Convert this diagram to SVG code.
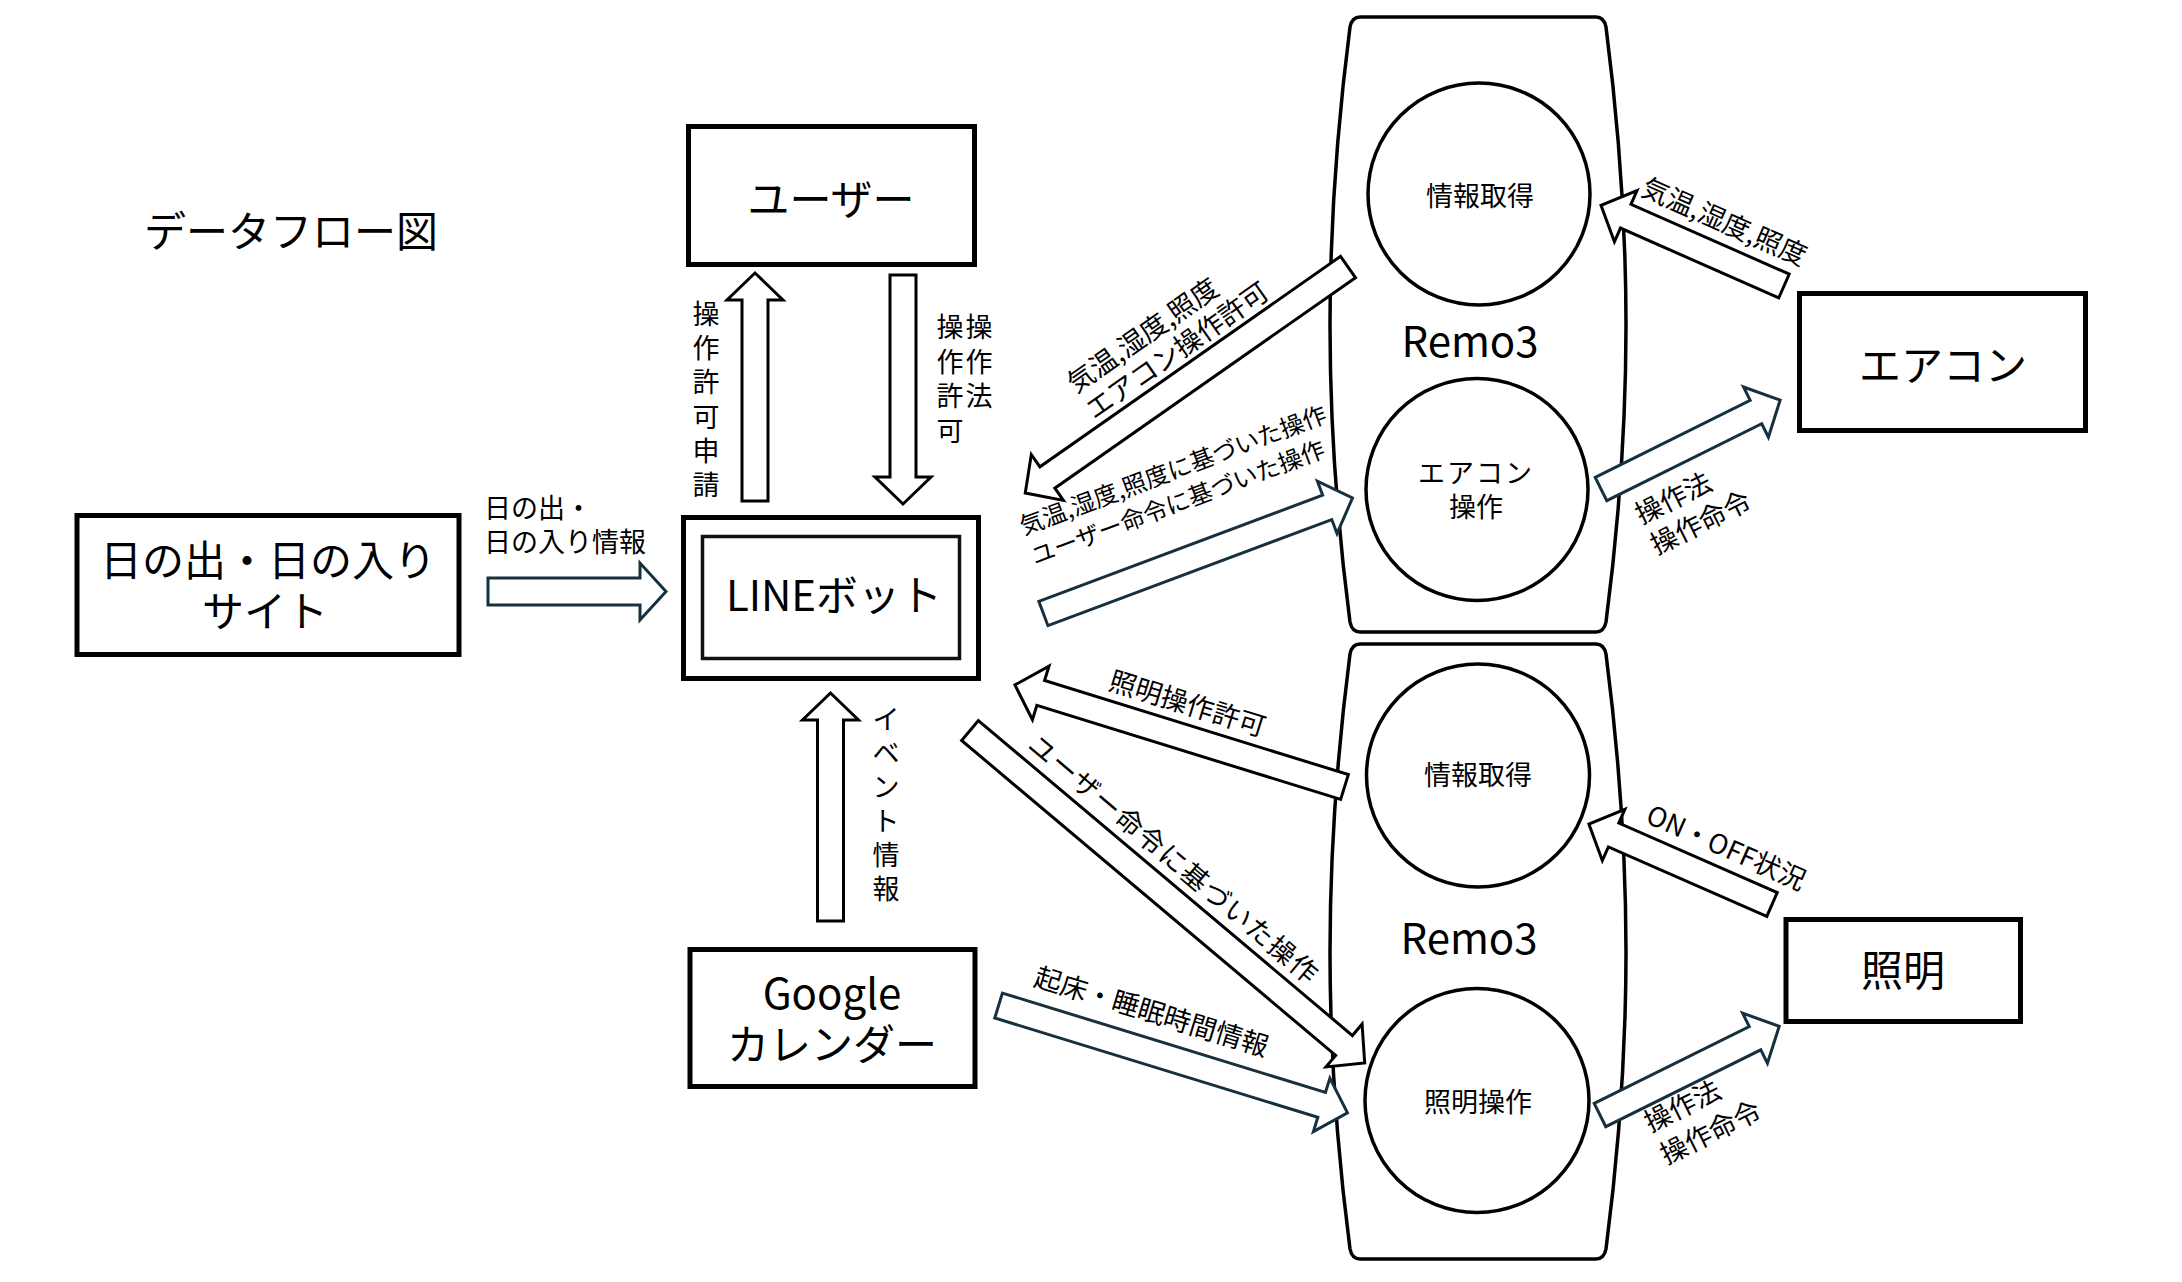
<svg xmlns="http://www.w3.org/2000/svg" width="2182" height="1282" viewBox="0 0 2182 1282">
<style>
text{font-family:"Noto Sans CJK JP","Noto Sans",sans-serif;fill:#000;dominant-baseline:central;text-anchor:middle}
.big{font-size:42px}
.sm{font-size:27px}
.st{text-anchor:start}
.box{fill:#fff;stroke:#000;stroke-width:5}
.remo{fill:#fff;stroke:#000;stroke-width:3.5}
.circ{fill:#fff;stroke:#000;stroke-width:3.5}
.arr{fill:#fff;stroke:#000;stroke-width:3;stroke-linejoin:miter}
.navy{stroke:#17303f}
</style>
<rect x="0" y="0" width="2182" height="1282" fill="#fff"/>
<text class="big st" x="144" y="228">データフロー図</text>

<g id="remo3-top">
<path class="remo" d="M1360,17 L1596,17 Q1604,17 1606,27 C1618,120 1626,220 1626,325 C1626,430 1618,530 1606,622 Q1604,632 1596,632 L1360,632 Q1352,632 1350,622 C1338,530 1330,430 1330,325 C1330,220 1338,120 1350,27 Q1352,17 1360,17 Z"/>
<text class="big" x="1470" y="338">Remo3</text>
</g>
<g id="remo3-bottom">
<path class="remo" transform="translate(0,627)" d="M1360,17 L1596,17 Q1604,17 1606,27 C1618,120 1626,220 1626,325 C1626,430 1618,530 1606,622 Q1604,632 1596,632 L1360,632 Q1352,632 1350,622 C1338,530 1330,430 1330,325 C1330,220 1338,120 1350,27 Q1352,17 1360,17 Z"/>
<text class="big" x="1469" y="935">Remo3</text>
</g>
<g id="info1">
<circle class="circ" cx="1479" cy="194" r="111"/>
<text class="sm" x="1480" y="194">情報取得</text>
</g>
<g id="aircon-op">
<circle class="circ" cx="1477" cy="489.5" r="111"/>
<text class="sm" x="1476" y="471" letter-spacing="2">エアコン</text>
<text class="sm" x="1476" y="505">操作</text>
</g>
<g id="info2">
<circle class="circ" cx="1478" cy="775.5" r="111.5"/>
<text class="sm" x="1478" y="773">情報取得</text>
</g>
<g id="light-op">
<circle class="circ" cx="1477" cy="1100.5" r="112"/>
<text class="sm" x="1478" y="1100">照明操作</text>
</g>

<g id="user">
<rect class="box" x="688.5" y="126.5" width="286" height="138"/>
<text class="big" x="831" y="196">ユーザー</text>
</g>
<g id="linebot">
<rect class="box" x="683.5" y="517.5" width="295" height="161"/>
<rect x="702.5" y="536.5" width="257" height="122" fill="none" stroke="#111" stroke-width="3.5"/>
<text class="big" x="834" y="592">LINEボット</text>
</g>
<g id="sunrise">
<rect class="box" x="77" y="515.5" width="382" height="139"/>
<text class="big" x="268" y="557">日の出・日の入り</text>
<text class="big" x="265" y="608">サイト</text>
</g>
<g id="google">
<rect class="box" x="690" y="949.5" width="285" height="137"/>
<text class="big" x="832" y="990">Google</text>
<text class="big" x="832" y="1041">カレンダー</text>
</g>
<g id="aircon">
<rect class="box" x="1799.5" y="293.5" width="286" height="137"/>
<text class="big" x="1943" y="362">エアコン</text>
</g>
<g id="light">
<rect class="box" x="1786" y="919.5" width="234.5" height="102"/>
<text class="big" x="1903" y="967">照明</text>
</g>

<g id="connectors">
<g id="c-request">
<polygon class="arr" transform="translate(755,501) rotate(-90)" points="0,-13 201,-13 201,-28 228,0 201,28 201,13 0,13"/>
<text class="sm"><tspan x="706" y="312">操</tspan><tspan x="706" y="346">作</tspan><tspan x="706" y="380">許</tspan><tspan x="706" y="415">可</tspan><tspan x="706" y="449">申</tspan><tspan x="706" y="483">請</tspan></text>
</g>
<g id="c-permit">
<polygon class="arr" transform="translate(903,275) rotate(90)" points="0,-13 202,-13 202,-28 229,0 202,28 202,13 0,13"/>
<text class="sm"><tspan x="950" y="325">操</tspan><tspan x="950" y="359.5">作</tspan><tspan x="950" y="394">許</tspan><tspan x="950" y="428.5">可</tspan></text>
<text class="sm"><tspan x="979" y="325">操</tspan><tspan x="979" y="359.5">作</tspan><tspan x="979" y="394">法</tspan></text>
</g>
<g id="c-event">
<polygon class="arr" transform="translate(830.5,921) rotate(-90)" points="0,-13 201,-13 201,-28 228,0 201,28 201,13 0,13"/>
<text class="sm"><tspan x="886" y="717">イ</tspan><tspan x="886" y="751">ベ</tspan><tspan x="886" y="785">ン</tspan><tspan x="886" y="819">ト</tspan><tspan x="886" y="853">情</tspan><tspan x="886" y="887">報</tspan></text>
</g>
<g id="c-sunrise">
<polygon class="arr navy" transform="translate(488,591.5)" points="0,-13.5 152,-13.5 152,-28.5 178,0 152,28.5 152,13.5 0,13.5"/>
<text class="sm st"><tspan x="484" y="506">日の出・</tspan><tspan x="484" y="540">日の入り情報</tspan></text>
</g>
<g id="c-a">
<polygon class="arr" transform="translate(1784,286) rotate(203.8)" points="0,-13 173,-13 173,-28 200,0 173,28 173,13 0,13"/>
<text class="sm" transform="translate(1725,220) rotate(23.8)">気温,湿度,照度</text>
</g>
<g id="c-b">
<polygon class="arr navy" transform="translate(1601,489) rotate(-26.4)" points="0,-13 173,-13 173,-28 200,0 173,28 173,13 0,13"/>
<text class="sm st" transform="translate(1636,514) rotate(-26.4)"><tspan x="0" y="0">操作法</tspan><tspan x="0" y="34">操作命令</tspan></text>
</g>
<g id="c-c">
<polygon class="arr" transform="translate(1348,267) rotate(145)" points="0,-13 367,-13 367,-28 394,0 367,28 367,13 0,13"/>
<text class="sm st" transform="translate(1160,340) rotate(-35)"><tspan x="-100" y="-16">気温,湿度,照度</tspan><tspan x="-100" y="16">エアコン操作許可</tspan></text>
</g>
<g id="c-d">
<polygon class="arr navy" transform="translate(1043.4,613.5) rotate(-20.5)" points="0,-13 303,-13 303,-28 330,0 303,28 303,13 0,13"/>
<text class="st" font-size="24" transform="translate(1020,525) rotate(-20.5)"><tspan x="0" y="0">気温,湿度,照度に基づいた操作</tspan><tspan x="0" y="32">ユーザー命令に基づいた操作</tspan></text>
</g>
<g id="c-e">
<polygon class="arr" transform="translate(1344.5,787) rotate(197.2)" points="0,-13 318,-13 318,-28 345,0 318,28 318,13 0,13"/>
<text class="sm" transform="translate(1188,702) rotate(17.2)">照明操作許可</text>
</g>
<g id="c-f">
<polygon class="arr" transform="translate(970,730.5) rotate(40.1)" points="0,-13 489,-13 489,-28 516,0 489,28 489,13 0,13"/>
<text class="sm" letter-spacing="1.5" transform="translate(1175,858) rotate(40.1)">ユーザー命令に基づいた操作</text>
</g>
<g id="c-g">
<polygon class="arr navy" transform="translate(998.6,1005.5) rotate(17.1)" points="0,-13 338,-13 338,-28 365,0 338,28 338,13 0,13"/>
<text class="sm" transform="translate(1152,1010) rotate(17.1)">起床・睡眠時間情報</text>
</g>
<g id="c-h">
<polygon class="arr" transform="translate(1772,904.5) rotate(203.7)" points="0,-13 173,-13 173,-28 200,0 173,28 173,13 0,13"/>
<text class="sm" transform="translate(1727,846) rotate(23.7)">ON・OFF状況</text>
</g>
<g id="c-i">
<polygon class="arr navy" transform="translate(1600,1115) rotate(-26.35)" points="0,-13 173,-13 173,-28 200,0 173,28 173,13 0,13"/>
<text class="sm st" transform="translate(1645,1122) rotate(-26.35)"><tspan x="0" y="0">操作法</tspan><tspan x="0" y="36">操作命令</tspan></text>
</g>
</g>
</svg>
